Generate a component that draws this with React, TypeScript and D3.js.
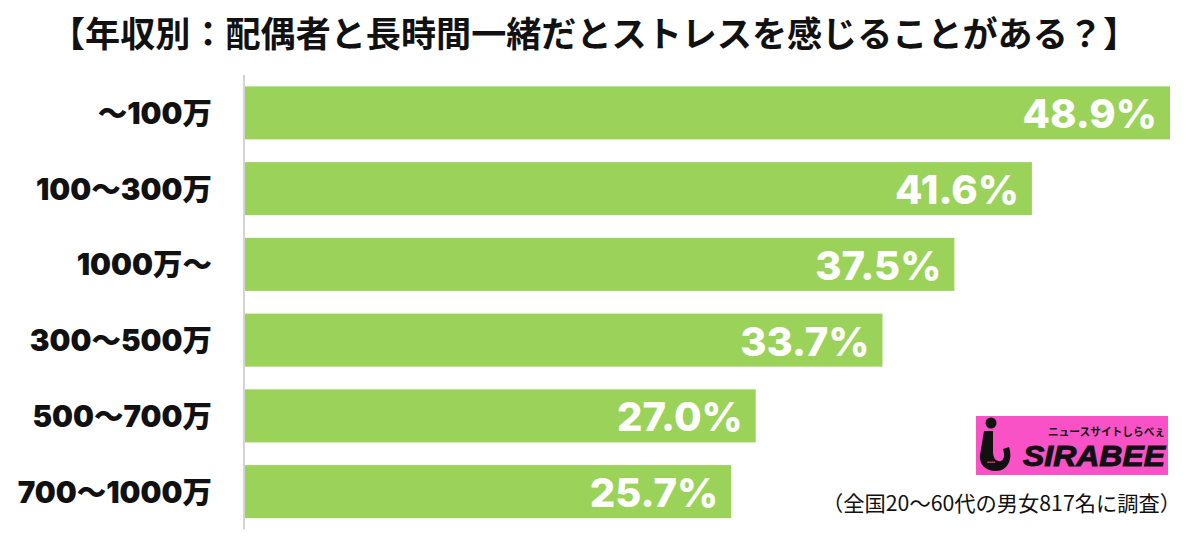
import React from "react";
import * as d3 from "d3";

const title = "【年収別：配偶者と長時間一緒だとストレスを感じることがある？】";
const categories = ["〜100万", "100〜300万", "1000万〜", "300〜500万", "500〜700万", "700〜1000万"];
const values = [48.9, 41.6, 37.5, 33.7, 27.0, 25.7];
const footnote = "（全国20〜60代の男女817名に調査）";
const logoTagline = "ニュースサイトしらべぇ";
const logoName = "SIRABEE";

const W = 1200;
const H = 540;
const FONT = "'Noto Sans CJK JP', 'Noto Sans', sans-serif";
const HEAVY = "Inter, 'Noto Sans CJK JP', sans-serif";

export default function App() {
  const x = d3.scaleLinear().domain([0, d3.max(values) as number]).range([245, 1170]);
  const y = d3
    .scaleBand<string>()
    .domain(categories)
    .range([75, 529.5])
    .paddingInner(0.3)
    .paddingOuter(0.15);

  return (
    <svg
      width={W}
      height={H}
      viewBox={`0 0 ${W} ${H}`}
      style={{ position: "absolute", left: 0, top: 0, background: "#fff" }}
    >
      <rect x={0} y={0} width={W} height={H} fill="#fff" />
      <text
        x={50}
        y={31}
        dominantBaseline="central"
        fontFamily={FONT}
        fontWeight={700}
        fontSize={35}
        fill="#111"
        textLength={1088}
        lengthAdjust="spacingAndGlyphs"
      >
        {title}
      </text>

      {categories.map((c, i) => {
        const yy = y(c) as number;
        const bw = y.bandwidth();
        return (
          <g key={c}>
            <rect x={x(0)} y={yy} width={x(values[i]) - x(0)} height={bw} fill="#9bd35a" />
            <text
              x={212}
              y={yy + bw / 2}
              textAnchor="end"
              dominantBaseline="central"
              fontFamily={HEAVY}
              fontWeight={900}
              fontSize={29.5}
              fill="#111"
            >
              {c}
            </text>
            <text
              x={x(values[i]) - 13}
              y={yy + bw / 2 + 1}
              textAnchor="end"
              dominantBaseline="central"
              fontFamily={HEAVY}
              fontWeight={800}
              fontSize={40}
              fill="#fff"
            >
              {values[i].toFixed(1) + "%"}
            </text>
          </g>
        );
      })}

      <line x1={244} x2={244} y1={75} y2={529.5} stroke="#d4d4d8" strokeWidth={2} />

      {/* logo */}
      <g>
        <rect x={976} y={416} width={192} height={59} fill="#f852c6" />
        <circle cx={991} cy={423} r={5.5} fill="#111" />
        <path
          d="M984,431 L993,431 L993,452 C993,459 997,462 1001,461 C1004,460 1005,455 1003,449 L1009,447 C1013,459 1008,471 996,471 C985,471 979,464 980,455 Z"
          fill="#111"
        />
        <text x={987} y={464} fontFamily={FONT} fontSize={6} fill="#f852c6">••••</text>
        <text
          x={1023}
          y={466}
          fontFamily="'Liberation Sans', Arial, sans-serif"
          fontWeight={700}
          fontStyle="italic"
          fontSize={29}
          fill="#111"
          stroke="#111"
          strokeWidth={1}
          textLength={142}
          lengthAdjust="spacingAndGlyphs"
        >
          {logoName}
        </text>
        <text
          x={1048}
          y={436}
          fontFamily={FONT}
          fontWeight={700}
          fontSize={11}
          fill="#111"
          textLength={117}
          lengthAdjust="spacingAndGlyphs"
        >
          {logoTagline}
        </text>
      </g>

      <text
        x={822}
        y={502}
        dominantBaseline="central"
        fontFamily={FONT}
        fontWeight={400}
        fontSize={21}
        fill="#111"
        textLength={359}
        lengthAdjust="spacingAndGlyphs"
      >
        {footnote}
      </text>
    </svg>
  );
}
